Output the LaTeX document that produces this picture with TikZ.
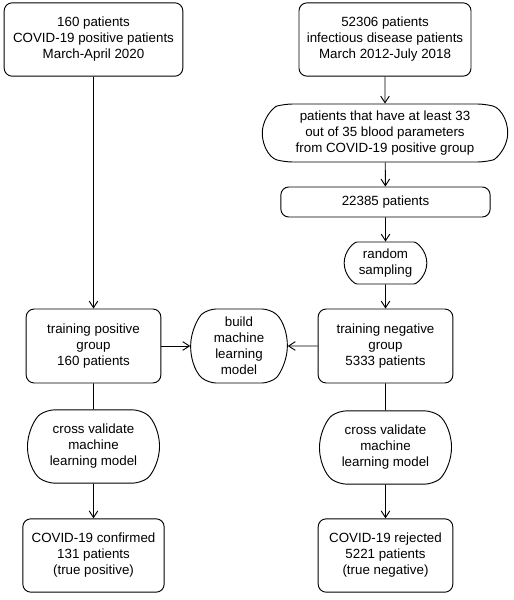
\documentclass[tikz,border=0pt]{standalone}
\usepackage{fontspec}
\setmainfont{Liberation Sans}
\usetikzlibrary{shapes.misc,arrows.meta}

\begin{document}
\begin{tikzpicture}[x=0.75pt,y=-0.75pt,line width=0.7pt,
    >={Straight Barb[length=5pt,width=6.5pt]},
    box/.style={draw,rounded corners=6pt,align=center,inner sep=2pt},
    term/.style={draw,rounded rectangle,rounded rectangle arc length=#1,rounded corners=6pt,align=center,inner sep=1pt},
    term/.default=180]
  \useasboundingbox (0,0) rectangle (514,600);

  % left column
  \node[box,minimum width=134pt,minimum height=55pt] (pos) at (93.5,39.5) {160 patients\\COVID-19 positive patients\\March-April 2020};
  \node[box,minimum width=101pt,minimum height=55.5pt] (trpos) at (93.5,346) {training positive\\group\\160 patients};
  \node[term=110,minimum width=101pt,minimum height=55pt] (cvpos) at (93.5,446.5) {cross validate\\machine\\learning model};
  \node[box,minimum width=106pt,minimum height=55pt] (conf) at (93.5,555.5) {COVID-19 confirmed\\131 patients\\(true positive)};

  % middle
  \node[term=100,minimum width=67.5pt,minimum height=55.5pt] (build) at (239,346) {build\\machine\\learning\\model};

  % right column
  \node[box,minimum width=129pt,minimum height=55pt] (inf) at (385,39.5) {52306 patients\\infectious disease patients\\March 2012-July 2018};
  \node[term=150,minimum width=186pt,minimum height=43.5pt] (blood) at (385,133) {patients that have at least 33\\out of 35 blood parameters\\from COVID-19 positive group};
  \node[box,minimum width=157pt,minimum height=22.5pt] (all) at (385.5,202) {22385 patients};
  \node[term,minimum width=64pt,minimum height=31.5pt] (rand) at (385.5,263) {random\\sampling};
  \node[box,minimum width=101pt,minimum height=55.5pt] (trneg) at (385.5,346) {training negative\\group\\5333 patients};
  \node[term=110,minimum width=101pt,minimum height=55pt] (cvneg) at (385.5,447.5) {cross validate\\machine\\learning model};
  \node[box,minimum width=101pt,minimum height=55pt] (rej) at (385.5,555.5) {COVID-19 rejected\\5221 patients\\(true negative)};

  \draw[->] (pos)--(trpos);
  \draw[->] (inf)--(blood);
  \draw[->] (blood)--(all);
  \draw[->] (all)--(rand);
  \draw[->] (rand)--(trneg);
  \draw[->] (trpos)--(build);
  \draw[->] (trneg)--(build);
  \draw (trpos)--(cvpos);
  \draw[->] (cvpos)--(conf);
  \draw (trneg)--(cvneg);
  \draw[->] (cvneg)--(rej);
\end{tikzpicture}
\end{document}
